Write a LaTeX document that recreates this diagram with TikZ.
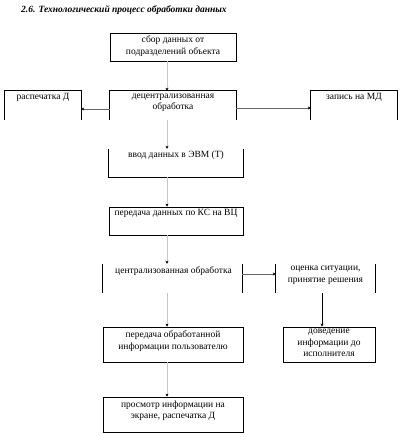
\documentclass[tikz,border=0pt]{standalone}
\usepackage{fontspec}
\setmainfont{Liberation Serif}
\usetikzlibrary{arrows.meta}
\begin{document}
\begin{tikzpicture}[x=1pt,y=-1pt,
  frame/.style={rectangle, inner sep=0pt, draw=none},
  full/.style={frame, draw=black, line width=0.8pt},
  edge/.style={draw=black, line width=0.8pt},
  txt/.style={font=\fontsize{9.5}{11.5}\selectfont, align=center, inner sep=2.5pt, anchor=north},
  spine/.style={draw=gray!45, line width=0.8pt, -{Stealth[length=3pt,width=3pt,color=black]}},
  harrow/.style={draw=black!60, line width=0.9pt, -{Stealth[length=3pt,width=3pt,color=black]}},
  rarrow/.style={draw=black, line width=0.8pt, -{Stealth[length=3pt,width=3pt,color=black]}}]
\useasboundingbox (0,0) rectangle (408,437);
\node[anchor=base west, inner sep=0pt, font=\fontsize{9.5}{11}\selectfont\bfseries\itshape] (title) at (21,12) {2.6. Технологический процесс обработки данных};
\coordinate (sp) at (167,0);
\coordinate (rx) at (322,0);
% boxes
\node[full, minimum width=126pt, minimum height=28pt] (b1) at (173,47) {};
\node[frame, minimum width=126pt, minimum height=29pt] (b2) at (173,105.5) {};
\node[frame, minimum width=76pt, minimum height=29pt] (lp) at (43,105.5) {};
\node[frame, minimum width=86pt, minimum height=29pt] (rp) at (354,105.5) {};
\node[frame, minimum width=134pt, minimum height=28pt] (b3) at (176,163) {};
\node[full, minimum width=134pt, minimum height=28pt] (b4) at (176,221) {};
\node[frame, minimum width=139pt, minimum height=29pt] (b5) at (172.5,278.5) {};
\node[frame, minimum width=99pt, minimum height=29pt] (oc) at (325.5,278.5) {};
\node[full, minimum width=140pt, minimum height=35pt] (b6) at (173,344.5) {};
\node[full, minimum width=92pt, minimum height=35pt] (b7) at (329,344.5) {};
\node[full, minimum width=140pt, minimum height=35pt] (b8) at (173,414.5) {};
% partial borders
\draw[edge] (b2.south west) -- (b2.north west) -- (b2.north east) -- (b2.south east);
\draw[edge] (lp.south west) -- (lp.north west) -- (lp.north east) -- (lp.south east);
\draw[edge] (rp.south west) -- (rp.north west) -- (rp.north east) -- (rp.south east);
\draw[edge] (b3.north west) -- (b3.south west) -- (b3.south east) -- (b3.north east);
\draw[edge] (b5.north west) -- (b5.south west) (b5.north east) -- (b5.south east);
\draw[edge] (oc.north west) -- (oc.south west) (oc.north east) -- (oc.south east);
% texts
\node[txt] (t1) at ([yshift=-0.5pt]b1.north) {сбор данных от\\подразделений объекта};
\node[txt] (t2) at ([yshift=-0.5pt]b2.north) {децентрализованная\\обработка};
\node[txt] (t3) at (lp.north) {распечатка Д};
\node[txt] (t4) at (rp.north) {запись на МД};
\node[txt] (t5) at ([yshift=1pt]b3.north) {ввод данных в ЭВМ (Т)};
\node[txt] (t6) at (b4.north) {передача данных по КС на ВЦ};
\node[txt] (t7) at ([xshift=1pt]b5.north) {централизованная обработка};
\node[txt] (t8) at (oc.north) {оценка ситуации,\\принятие решения};
\node[txt] (t9) at ([yshift=-1.5pt]b6.north) {передача обработанной\\информации пользователю};
\node[txt] (t10) at (b7.north) {доведение\\информации до\\исполнителя};
\node[txt] (t11) at ([yshift=-1.5pt]b8.north) {просмотр информации на\\экране, распечатка Д};
% connectors
\draw[spine] (b1.south -| sp) -- (b2.north -| sp);
\draw[spine] (b2.south -| sp) -- (b3.north -| sp);
\draw[spine] (b3.south -| sp) -- (b4.north -| sp);
\draw[spine] (b4.south -| sp) -- (b5.north -| sp);
\draw[spine] (b5.south -| sp) -- (b6.north -| sp);
\draw[spine] (b6.south -| sp) -- (b8.north -| sp);
\draw[harrow] ([yshift=-3.5pt]b2.west) -- ([yshift=-3.5pt]lp.east);
\draw[harrow] ([yshift=-2.5pt]b2.east) -- ([yshift=-2.5pt]rp.west);
\draw[harrow] ([yshift=4.5pt]b5.east) -- ([yshift=4.5pt]oc.west);
\draw[rarrow] (oc.south -| rx) -- (b7.north -| rx);
\end{tikzpicture}
\end{document}
